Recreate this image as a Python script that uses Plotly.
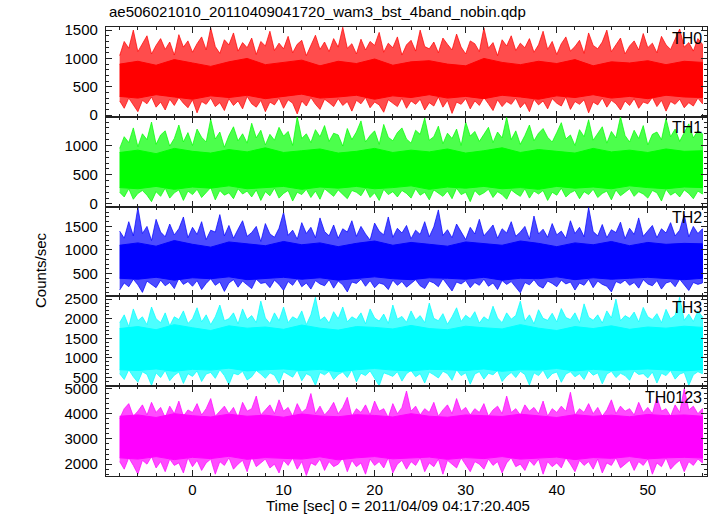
import numpy as np
import plotly.graph_objects as go

# ---------------- data (envelopes) ----------------
t_start, t_end = -8.0, 56.0
panel_names = ["TH0", "TH1", "TH2", "TH3", "TH0123"]
panel_colors = ["#ff0000", "#00ff00", "#0000ff", "#00ffff", "#ff00ff"]
panel_light = ["rgba(255,0,0,0.7)", "rgba(0,255,0,0.7)", "rgba(0,0,255,0.7)",
               "rgba(0,255,255,0.7)", "rgba(255,0,255,0.7)"]

# outer envelope (spikes), every 0.5 s
th0_upper = [1050,1300,1180,1500,1120,1250,1400,1080,1230,1350,1160,1290,1060,1420,1200,1310,
             1110,1260,1380,1150,1540,1210,1090,1330,1240,1450,1130,1280,1190,1360,1070,1300,
             1220,1480,1140,1270,1170,1390,1100,1250,1320,1050,1230,1410,1160,1290,1120,1350,
             1200,1550,1180,1260,1080,1340,1150,1300,1230,1460,1110,1270,1190,1380,1060,1240,
             1320,1130,1500,1210,1170,1290,1100,1360,1250,1150,1430,1200,1080,1310,1260,1120,
             1540,1180,1280,1050,1330,1220,1400,1140,1270,1190,1350,1110,1240,1480,1160,1300,
             1070,1260,1380,1130,1210,1320,1090,1450,1230,1170,1290,1500,1120,1250,1360,1080,
             1220,1310,1150,1440,1190,1270,1100,1390,1240,1160,1330,1520,1200,1280,1130,1350,
             1250]
th0_lower = [250,120,300,180,60,260,200,320,140,230,90,280,170,310,210,130,
             270,40,240,190,300,150,220,80,290,170,250,110,330,200,140,260,
             60,230,180,300,120,270,210,20,250,160,310,190,100,280,220,150,
             290,170,240,70,260,200,310,130,230,180,50,270,210,150,300,120,
             250,190,280,90,220,160,320,140,260,30,230,190,290,110,250,170,
             310,200,80,270,150,240,190,300,130,220,60,280,180,250,110,290,
             210,160,320,100,240,190,270,40,230,180,300,140,260,200,90,250,
             170,290,120,230,200,310,150,260,70,240,190,280,130,220,160,300,
             200]

th1_upper = [950,1150,1050,1300,980,1200,1100,1400,1020,1180,1250,990,1120,1350,1060,1220,
             1000,1280,1140,1060,1450,1110,1230,970,1170,1320,1080,1200,1040,1380,1130,1260,
             1010,1190,1090,1310,1160,1240,1000,1490,1120,1200,1050,1270,1150,1340,1070,1210,
             1180,990,1290,1100,1230,1420,1060,1170,1250,1020,1360,1140,1080,1220,1300,1110,
             1040,1260,1190,1470,1090,1150,1330,1030,1210,1120,1280,1000,1400,1160,1240,1070,
             1190,1310,1050,1230,1130,1480,1100,1250,1020,1170,1350,1080,1210,1290,1140,1060,
             1220,1390,1110,1180,1000,1270,1150,1440,1090,1200,1320,1040,1240,1130,1490,1170,
             1060,1260,1120,1340,1010,1190,1230,1100,1460,1150,1280,1070,1210,1370,1130,1250,
             1200]
th1_lower = [200,120,260,80,180,230,150,40,210,130,270,100,190,240,60,220,
             160,250,110,200,280,70,230,150,190,90,260,170,220,120,240,60,
             210,140,270,100,180,230,50,200,160,250,110,220,80,260,190,130,
             240,170,90,230,200,140,270,110,190,60,250,160,210,120,230,180,
             100,260,150,200,70,240,180,130,220,90,270,160,200,40,230,150,
             190,250,110,210,160,80,240,180,130,260,100,220,170,230,60,200,
             150,270,120,190,230,90,210,160,250,110,180,220,70,240,140,200,
             260,130,210,170,100,230,190,50,250,150,200,120,240,180,90,220,
             170]

th2_upper = [1400,1250,1600,1300,1900,1350,1500,1200,1650,1380,1280,1550,1320,1450,1700,1260,
             1480,1330,1600,1220,1420,1380,1750,1300,1520,1250,1440,1620,1290,1370,1500,1180,
             1560,1340,1270,1460,1800,1310,1420,1230,1580,1350,1480,1260,1680,1390,1300,1530,
             1250,1450,1380,1620,1290,1500,1340,1210,1570,1400,1320,1700,1270,1460,1360,1520,
             1240,1420,1330,1600,1280,1490,1850,1310,1430,1260,1550,1370,1220,1480,1340,1650,
             1300,1410,1530,1250,1450,1360,1600,1290,1380,1500,1230,1720,1340,1440,1270,1560,
             1320,1400,1250,1620,1350,1480,1280,1900,1390,1300,1540,1260,1430,1370,1590,1240,
             1460,1330,1680,1290,1410,1520,1260,1450,1360,1580,1300,1420,1750,1280,1500,1350,
             1450]
th2_lower = [150,300,220,380,260,100,340,280,200,360,240,310,180,400,270,330,
             230,350,160,290,390,250,320,120,300,370,210,340,260,180,380,290,
             310,200,360,270,140,330,250,390,220,300,170,350,280,240,370,190,
             340,260,110,320,290,380,230,350,200,300,270,160,360,250,330,210,
             290,370,240,180,340,300,220,390,260,130,320,280,350,200,310,250,
             380,230,300,160,350,270,330,210,90,310,260,370,240,190,340,290,
             220,360,280,320,150,300,250,380,200,340,270,230,110,330,290,360,
             250,310,190,370,280,240,350,170,300,330,220,380,260,140,310,270,
             300]

th3_upper = [1900,2100,1800,2250,1950,2050,1850,2300,2000,1900,2150,1820,2050,1980,2200,1880,
             2000,2280,1920,2100,1850,2050,2350,1950,2000,2150,1870,2250,1980,2080,1900,2450,
             2020,1880,2150,1950,2300,1900,2050,1980,2200,1850,2100,2550,1960,2050,1890,2180,
             2000,2300,1920,2050,1980,2150,1870,2250,2020,1940,2120,1880,2350,1990,2060,1910,
             2200,1970,2080,1900,2400,2010,1950,2130,1860,2050,2280,1930,2090,2000,2180,1890,
             2050,1960,2320,2020,1900,2150,1990,2080,2450,1940,2100,1870,2230,2010,1960,2140,
             1920,2260,2030,1980,2150,1900,2380,2040,1960,2100,1890,2200,2020,2500,1950,2080,
             2010,2170,1920,2290,2050,1980,2130,1900,2240,2000,2090,2550,1960,2120,1930,2200,
             2050]
th3_lower = [600,450,700,520,380,650,580,300,620,500,680,420,560,640,350,600,
             530,670,400,590,630,480,700,550,320,610,570,660,440,520,680,590,
             480,620,560,350,650,590,510,690,420,600,540,300,630,570,660,450,
             580,640,500,700,390,610,550,670,470,290,620,580,530,650,410,600,
             680,520,600,360,640,570,490,660,600,430,700,550,620,330,590,650,
             460,610,570,680,400,540,630,500,660,580,310,620,550,690,470,600,
             640,380,590,650,520,600,450,680,560,620,340,590,660,500,610,550,
             430,670,580,600,490,640,360,610,550,680,460,590,630,300,570,650,
             600]

th0123_upper = [3800,4200,4400,3900,4100,4350,3950,4450,4050,4250,3850,4300,4000,4500,3900,4150,
                4050,4400,3950,4200,4600,3900,4100,4300,4000,4250,3850,4450,4100,4200,4700,3950,
                4150,4350,4000,4550,4100,4250,3900,4400,4050,4200,4800,4000,4300,3950,4150,4450,
                4000,4250,4650,3900,4200,4050,4350,3950,4500,4100,4200,3850,4400,4000,4250,4900,
                4100,4300,3950,4200,4050,4450,3900,4150,4350,4000,4600,4100,4250,3950,4200,4050,
                4400,3900,4150,4300,4000,4700,4050,4200,3950,4350,4100,4250,4000,4500,3900,4200,
                4050,4300,4100,4850,3950,4200,4050,4400,4000,4250,3900,4150,4550,4000,4300,4100,
                4200,3950,4450,4050,4250,4000,4650,4100,4200,3900,4350,4050,5000,4150,4300,4000,
                4200]
th0123_lower = [2100,1800,2250,1950,1600,2150,2000,2300,1850,2100,1700,2200,1950,2050,1650,2250,
                1900,2150,1750,2050,2200,1600,2100,1950,2250,1800,2000,2150,1700,2300,1900,2050,
                2200,1850,2000,1650,2150,1950,2250,1800,2100,1550,2050,1950,2200,1750,2100,1900,
                2000,2250,1700,2150,1900,2050,1600,2200,1950,2100,1850,2250,1650,2000,2150,1800,
                2100,1950,2250,1700,2050,1900,2200,1600,2150,2000,1850,2250,1950,1700,2100,2000,
                1800,2200,1950,2100,1650,2050,2250,1900,2000,1750,2150,1950,2200,1600,2100,1900,
                2050,1850,2250,2000,1700,2150,1950,2100,1800,2200,1650,2050,1950,2250,1850,2000,
                2150,1750,2100,1950,2200,1600,2050,1900,2250,1800,2000,2150,1700,2100,1950,2200,
                2050]

# dense core band, every 2 s
th0_core_upper = [900,950,880,980,920,860,940,1000,890,930,970,870,950,910,990,880,940,
                  960,900,870,1000,930,890,950,910,980,870,940,920,960,890,950,930]
th0_core_lower = [330,300,360,320,280,340,310,350,290,330,370,300,320,350,280,340,310,
                  360,300,330,290,350,320,280,340,310,360,300,330,290,350,320,310]
th1_core_upper = [880,920,860,950,900,870,930,890,960,880,910,940,870,900,950,880,920,
                  890,940,870,910,960,880,930,900,870,950,890,920,880,940,900,910]
th1_core_lower = [280,260,300,250,290,270,310,260,280,300,250,290,270,300,260,280,310,
                  250,290,270,300,260,280,250,300,270,290,260,310,280,260,290,280]
th2_core_upper = [1100,1150,1080,1200,1120,1060,1170,1130,1090,1180,1110,1150,1070,1140,1190,1100,1160,
                  1120,1080,1170,1130,1100,1190,1140,1070,1150,1110,1180,1090,1160,1120,1140,1130]
th2_core_lower = [400,380,420,360,410,390,430,370,400,420,380,410,360,400,430,390,370,
                  410,400,380,420,360,400,390,430,370,410,380,400,420,390,370,400]
th3_core_upper = [1750,1800,1720,1850,1770,1700,1820,1760,1790,1730,1840,1760,1710,1800,1780,1740,1830,
                  1750,1720,1810,1770,1740,1850,1760,1700,1800,1750,1820,1730,1790,1760,1810,1780]
th3_core_lower = [700,680,720,660,710,690,740,670,700,720,680,710,650,700,730,690,670,
                  710,700,680,720,660,700,690,730,670,710,680,700,720,690,670,700]
th0123_core_upper = [3900,3950,3850,4000,3920,3870,3980,3900,3940,3860,3990,3910,3880,3960,3930,3870,4000,
                     3900,3860,3950,3920,3890,3980,3910,3850,3960,3900,3940,3880,3970,3920,3950,3900]
th0123_core_lower = [2250,2200,2300,2180,2270,2220,2310,2190,2260,2240,2200,2290,2170,2250,2300,2210,2230,
                     2280,2190,2260,2220,2300,2200,2250,2280,2180,2260,2230,2300,2210,2250,2270,2240]

uppers = [th0_upper, th1_upper, th2_upper, th3_upper, th0123_upper]
lowers = [th0_lower, th1_lower, th2_lower, th3_lower, th0123_lower]
core_uppers = [th0_core_upper, th1_core_upper, th2_core_upper, th3_core_upper, th0123_core_upper]
core_lowers = [th0_core_lower, th1_core_lower, th2_core_lower, th3_core_lower, th0123_core_lower]

y_ranges = [[-30, 1555], [-45, 1490], [15, 1920], [280, 2570], [1530, 5090]]
y_dticks = [500, 500, 500, 500, 1000]
y_minor = [100, 100, 100, 100, 200]
x_range = [-9.5, 56.5]

title_text = "ae506021010_20110409041720_wam3_bst_4band_nobin.qdp"
x_title = "Time [sec] 0 = 2011/04/09 04:17:20.405"
y_title = "Counts/sec"

# ---------------- figure ----------------
W, H = 717, 516
L, R, T, B = 106, 10, 27, 40
plot_h = H - T - B
plot_w = W - L - R
FONT = "Liberation Sans, Arial, Helvetica, sans-serif"
AX = "#222222"


def band(up, lo):
    tu = np.linspace(t_start, t_end, len(up))
    tl = np.linspace(t_start, t_end, len(lo))
    return list(tu) + list(tl[::-1]), list(up) + list(lo[::-1])


fig = go.Figure()
n = len(panel_names)
layout = dict()
for i in range(n):
    k = "" if i == 0 else str(i + 1)
    xs, ys = band(uppers[i], lowers[i])
    fig.add_trace(go.Scatter(
        x=xs, y=ys, mode="lines", fill="toself",
        fillcolor=panel_light[i],
        line=dict(color=panel_light[i], width=1),
        xaxis="x" + k, yaxis="y" + k, hoverinfo="skip", showlegend=False))
    xs, ys = band(core_uppers[i], core_lowers[i])
    fig.add_trace(go.Scatter(
        x=xs, y=ys, mode="lines", fill="toself",
        fillcolor=panel_colors[i],
        line=dict(color=panel_colors[i], width=1),
        xaxis="x" + k, yaxis="y" + k, hoverinfo="skip", showlegend=False))

    top = 1 - i / n
    bot = 1 - (i + 1) / n
    layout["xaxis" + k] = dict(
        domain=[0, 1], anchor="y" + k, range=x_range,
        showline=True, linecolor=AX, linewidth=1.2, mirror="allticks",
        ticks="inside", ticklen=6, tickwidth=1, tickcolor=AX,
        dtick=10, tick0=0,
        minor=dict(ticks="inside", ticklen=3, dtick=2, tickcolor=AX),
        showgrid=False, zeroline=False,
        showticklabels=(i == n - 1),
        tickfont=dict(family=FONT, size=15, color="#000"),
        **({} if i == 0 else {"matches": "x"}))
    layout["yaxis" + k] = dict(
        domain=[bot, top], anchor="x" + k, range=y_ranges[i],
        showline=True, linecolor=AX, linewidth=1.2, mirror="allticks",
        ticks="inside", ticklen=6, tickwidth=1, tickcolor=AX,
        dtick=y_dticks[i], tick0=0,
        minor=dict(ticks="inside", ticklen=3, dtick=y_minor[i], tickcolor=AX),
        showgrid=False, zeroline=False,
        tickfont=dict(family=FONT, size=15, color="#000"),
        ticklabelstandoff=4)

fig.update_layout(**layout)

annotations = []
for i in range(n):
    top_px = T + i * plot_h / n
    annotations.append(dict(
        text=panel_names[i], xref="paper", yref="paper",
        x=(704 - L) / plot_w, y=(H - B - (top_px + 11)) / plot_h,
        xanchor="right", yanchor="middle", showarrow=False,
        font=dict(family=FONT, size=16, color="#000")))

annotations.append(dict(text=title_text, xref="paper", yref="paper",
                        x=(107 - L) / plot_w, y=(H - B - 12) / plot_h,
                        xanchor="left", yanchor="middle", showarrow=False,
                        font=dict(family=FONT, size=15, color="#000")))
annotations.append(dict(text=x_title, xref="paper", yref="paper",
                        x=(398 - L) / plot_w, y=(H - B - 506) / plot_h,
                        xanchor="center", yanchor="middle", showarrow=False,
                        font=dict(family=FONT, size=15, color="#000")))
annotations.append(dict(text=y_title, xref="paper", yref="paper",
                        x=(40 - L) / plot_w, y=(H - B - 270) / plot_h,
                        xanchor="center", yanchor="middle", showarrow=False,
                        textangle=-90,
                        font=dict(family=FONT, size=15, color="#000")))

fig.update_layout(
    width=W, height=H, margin=dict(l=L, r=R, t=T, b=B, pad=0),
    paper_bgcolor="white", plot_bgcolor="white",
    annotations=annotations, showlegend=False)

fig.write_html("out.html", config={"displayModeBar": False},
               post_script="document.body.style.margin='0';document.body.style.overflow='hidden';")
